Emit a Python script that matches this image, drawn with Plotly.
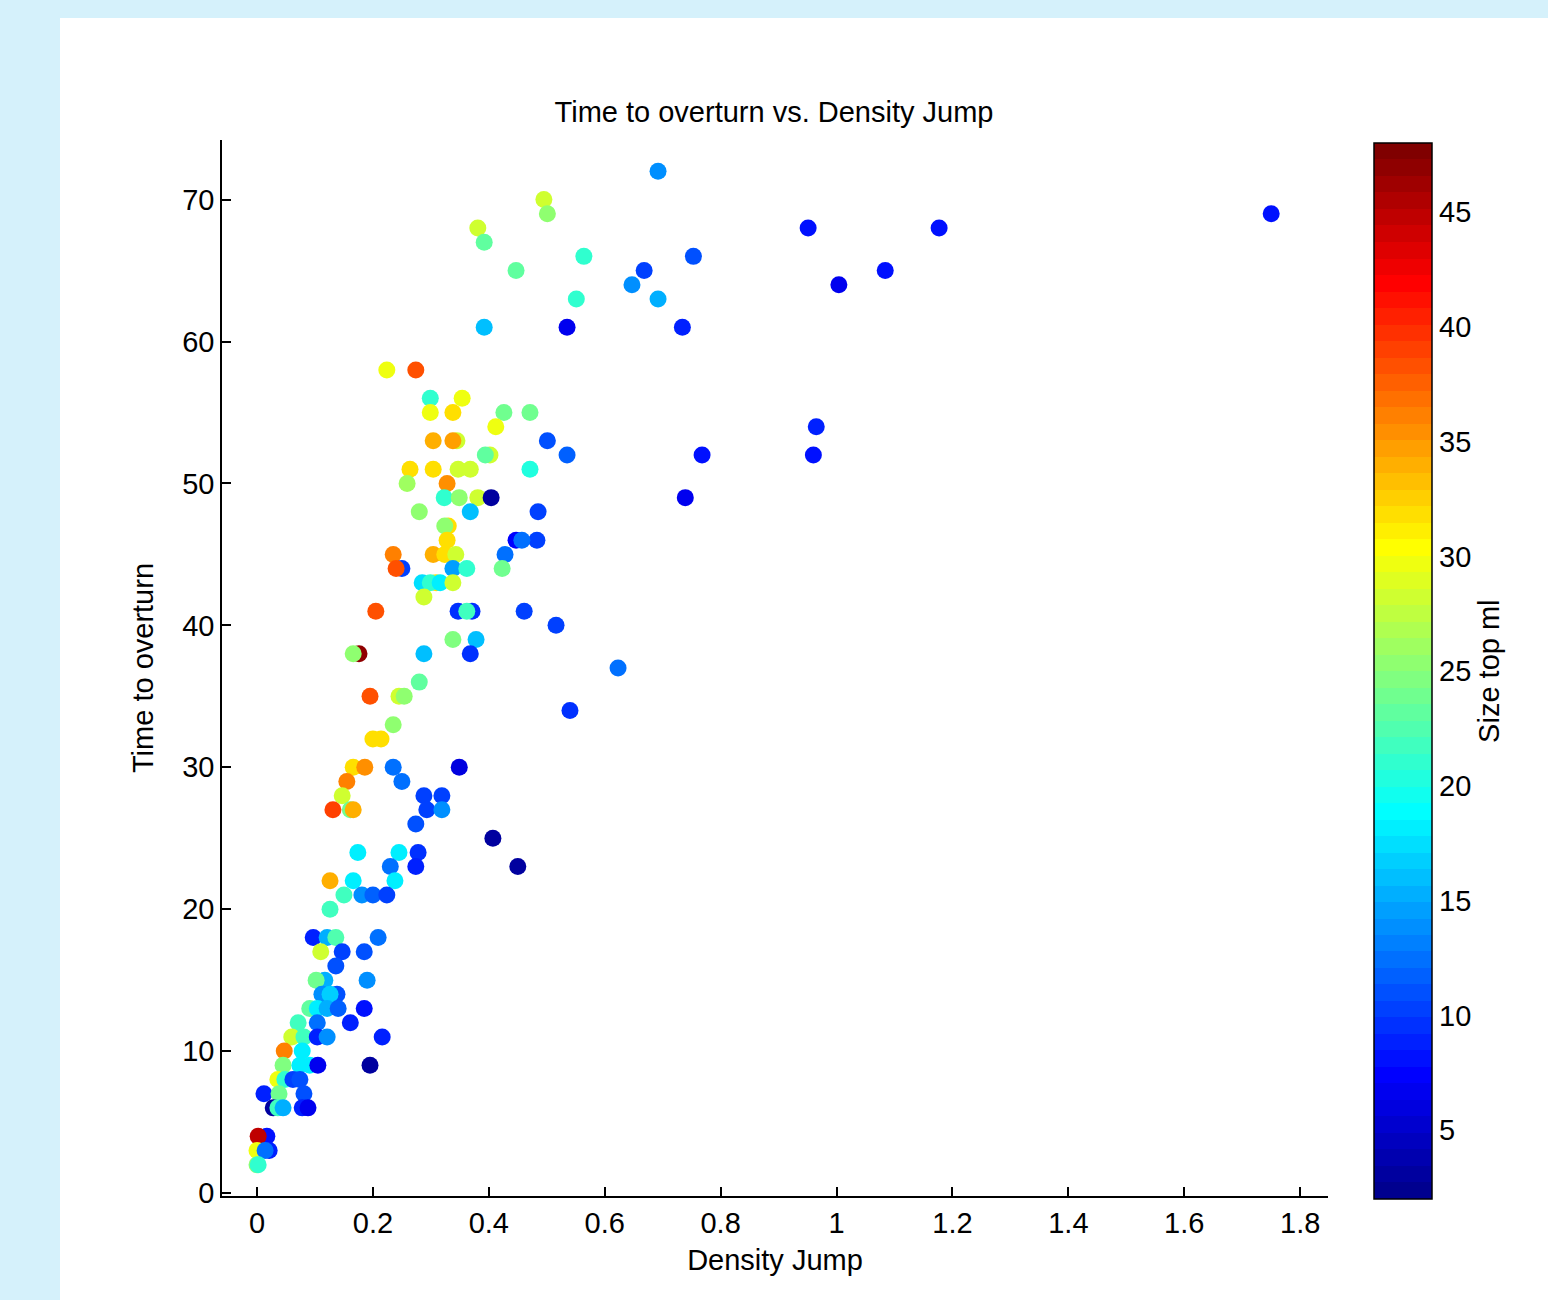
import plotly.graph_objects as go
import numpy as np

# ---------------- data ----------------
density_jump = [
    0.692, 0.495, 0.501, 0.381, 0.392, 0.447, 0.564, 0.551, 0.392, 0.535,
    0.647, 0.668, 0.692, 0.753, 0.734, 0.951, 1.004, 1.084, 1.177, 1.750,
    0.965, 0.960, 0.768, 0.739, 0.501, 0.535, 0.623, 0.540, 0.516, 0.461,
    0.485, 0.483,
    0.224, 0.274, 0.299, 0.354, 0.299, 0.338, 0.426, 0.471, 0.412, 0.304,
    0.345, 0.338, 0.402, 0.394, 0.264, 0.304, 0.347, 0.368, 0.471, 0.259,
    0.328, 0.323, 0.349, 0.381, 0.404, 0.280, 0.368, 0.330, 0.324, 0.328,
    0.447, 0.457, 0.235, 0.304, 0.324, 0.343, 0.428, 0.250, 0.240, 0.338,
    0.362, 0.423, 0.309, 0.285, 0.299, 0.316, 0.338, 0.288, 0.205, 0.347,
    0.371, 0.362, 0.338, 0.378, 0.176, 0.166, 0.288, 0.368, 0.280, 0.195,
    0.245, 0.254, 0.235, 0.200, 0.214, 0.166, 0.186, 0.235, 0.349, 0.155,
    0.250, 0.147, 0.288, 0.319, 0.161, 0.131, 0.166, 0.293, 0.319, 0.274,
    0.407, 0.174, 0.245, 0.278, 0.274, 0.230, 0.450, 0.126, 0.166, 0.238,
    0.150, 0.181, 0.200, 0.224, 0.126, 0.097, 0.121, 0.136, 0.209, 0.110,
    0.147, 0.185, 0.136, 0.117, 0.102, 0.190, 0.138, 0.112, 0.126, 0.091,
    0.104, 0.121, 0.140, 0.185, 0.071, 0.104, 0.161, 0.060, 0.081, 0.104,
    0.121, 0.216, 0.047, 0.078, 0.045, 0.074, 0.091, 0.105, 0.195, 0.036,
    0.048, 0.062, 0.074, 0.012, 0.038, 0.081, 0.028, 0.036, 0.045, 0.078,
    0.088, 0.017, 0.002, 0.000, 0.021, 0.014, 0.000, 0.002,
]
time_to_overturn = [
    72, 70, 69, 68, 67, 65, 66, 63, 61, 61,
    64, 65, 63, 66, 61, 68, 64, 65, 68, 69,
    54, 52, 52, 49, 53, 52, 37, 34, 40, 41,
    48, 46,
    58, 58, 56, 56, 55, 55, 55, 55, 54, 53,
    53, 53, 52, 52, 51, 51, 51, 51, 51, 50,
    50, 49, 49, 49, 49, 48, 48, 47, 47, 46,
    46, 46, 45, 45, 45, 45, 45, 44, 44, 44,
    44, 44, 43, 43, 43, 43, 43, 42, 41, 41,
    41, 41, 39, 39, 38, 38, 38, 38, 36, 35,
    35, 35, 33, 32, 32, 30, 30, 30, 30, 29,
    29, 28, 28, 28, 27, 27, 27, 27, 27, 26,
    25, 24, 24, 24, 23, 23, 23, 22, 22, 22,
    21, 21, 21, 21, 20, 18, 18, 18, 18, 17,
    17, 17, 16, 15, 15, 15, 14, 14, 14, 13,
    13, 13, 13, 13, 12, 12, 12, 11, 11, 11,
    11, 11, 10, 10, 9, 9, 9, 9, 9, 8,
    8, 8, 8, 7, 7, 7, 6, 6, 6, 6,
    6, 4, 4, 3, 3, 3, 2, 2,
]
size_top_ml = [
    14, 28, 25, 28, 23, 23, 21, 21, 16, 6.5,
    14, 10, 15, 11, 8.5, 8, 7, 8, 8, 8,
    8.5, 8, 8, 7, 11, 12, 12.5, 9.5, 10, 10,
    10, 10.5,
    30, 38, 21, 30, 30, 32, 24, 24, 30, 34,
    28, 34.5, 28, 23, 32, 32, 28, 28, 20.5, 26,
    35.5, 21, 25, 28, 3, 25, 16, 32, 25, 32,
    7.5, 12.5, 36, 34, 32, 28, 12.5, 10, 38.5, 14.5,
    21, 24, 32, 17.5, 21, 18, 28, 28, 38, 9.5,
    9.5, 21.5, 24.5, 16, 47, 25, 16, 9.5, 23.5, 38,
    28, 25, 25, 32, 32, 32, 35.5, 12.5, 6, 36,
    12.5, 28, 10.5, 10.5, 24, 39, 34, 10, 14, 11,
    3, 18.5, 18, 9.5, 8.5, 12.5, 3, 34, 18, 18.5,
    22, 14, 12, 10, 21.5, 8.5, 15, 22.5, 12.5, 28,
    10, 11, 11, 15, 24, 14, 11, 14, 17, 23,
    18, 15, 12, 8, 22, 12.5, 9, 28, 21.5, 8.5,
    14, 9, 36, 18.5, 24.5, 18, 18, 6.5, 3, 30,
    21, 10.5, 11, 8.5, 24, 11, 3, 21.5, 15, 9,
    7, 8, 44.5, 30, 9, 12.5, 25, 21,
]

x_ticks = [0, 0.2, 0.4, 0.6, 0.8, 1, 1.2, 1.4, 1.6, 1.8]
y_ticks = [0, 10, 20, 30, 40, 50, 60, 70]
cbar_ticks = [5, 10, 15, 20, 25, 30, 35, 40, 45]
CMIN, CMAX = 2, 48


# ---------------- MATLAB jet(64), stepped ----------------
def jet64():
    m = 64
    n = 16
    u = np.concatenate([np.arange(1, n + 1) / n, np.ones(n - 1), np.arange(n, 0, -1) / n])
    g = (n // 2) + np.arange(1, len(u) + 1)
    r = g + n
    b = g - n
    cm = np.zeros((m, 3))
    for idx, col in ((r, 0), (g, 1), (b, 2)):
        for k, v in zip(idx, u):
            if 1 <= k <= m:
                cm[k - 1, col] = v
    return cm


cm = jet64()
colorscale = []
for i, (rr, gg, bb) in enumerate(cm):
    c = f"rgb({int(round(rr * 255))},{int(round(gg * 255))},{int(round(bb * 255))})"
    colorscale.append([i / 64, c])
    colorscale.append([(i + 1) / 64, c])

FONT = "Liberation Sans, Arial, Helvetica, sans-serif"
FS = 29
BG = "#d5f1fb"

W, H = 1548, 1300
ML, MR, MT, MB = 222, 220, 140, 104
PW = W - ML - MR
PH = H - MT - MB

# colorbar geometry (paper fractions)
CB_X0 = 1.0416
CB_THICK = 58
CB_Y = 0.497
CB_LEN = 1.0
cb_x1 = CB_X0 + CB_THICK / PW
cb_y0 = CB_Y - CB_LEN / 2
tick_w = 9 / PW

fig = go.Figure()
fig.add_trace(go.Scatter(
    x=density_jump, y=time_to_overturn, mode="markers",
    marker=dict(
        size=17, color=size_top_ml, colorscale=colorscale, cmin=CMIN, cmax=CMAX,
        line=dict(width=0), opacity=1,
        colorbar=dict(
            x=CB_X0, xanchor="left", xpad=0, ypad=0,
            y=CB_Y, yanchor="middle", len=CB_LEN, lenmode="fraction",
            thickness=CB_THICK, thicknessmode="pixels",
            outlinecolor="black", outlinewidth=1.5,
            ticks="", ticklabelposition="outside",
            tickvals=cbar_ticks, ticktext=[str(t) for t in cbar_ticks],
            tickfont=dict(family=FONT, size=FS, color="black"),
            title=dict(text="Size top ml", side="right",
                       font=dict(family=FONT, size=FS, color="black")),
        ),
    ),
    showlegend=False,
    hoverinfo="x+y",
))

shapes = [dict(type="rect", xref="paper", yref="paper",
               x0=(60 - ML) / PW, x1=(W - ML) / PW,
               y0=-(H - MT - PH - 0) / PH, y1=(PH + MT - 18) / PH,
               fillcolor="white", line=dict(width=0), layer="below")]
for t in cbar_ticks:
    yy = cb_y0 + (t - CMIN) / (CMAX - CMIN) * CB_LEN
    shapes.append(dict(type="line", xref="paper", yref="paper",
                       x0=CB_X0, x1=CB_X0 + tick_w, y0=yy, y1=yy,
                       line=dict(color="black", width=1.5), layer="above"))
    shapes.append(dict(type="line", xref="paper", yref="paper",
                       x0=cb_x1 - tick_w, x1=cb_x1, y0=yy, y1=yy,
                       line=dict(color="black", width=1.5), layer="above"))

fig.update_layout(
    width=W, height=H,
    margin=dict(l=ML, r=MR, t=MT, b=MB),
    paper_bgcolor=BG,
    plot_bgcolor="white",
    font=dict(family=FONT, size=FS, color="black"),
    title=dict(text="Time to overturn vs. Density Jump", x=0.5, xref="container",
               y=1 - 112 / H, yref="container", xanchor="center", yanchor="middle",
               font=dict(family=FONT, size=FS, color="black")),
    xaxis=dict(
        range=[-0.0604, 1.848], showgrid=False, zeroline=False,
        showline=True, linecolor="black", linewidth=1.5, mirror=False,
        ticks="inside", ticklen=9, tickcolor="black", tickwidth=1.5,
        tickvals=x_ticks, ticktext=[f"{t:g}" for t in x_ticks],
        tickfont=dict(family=FONT, size=FS, color="black"),
        title=dict(text="Density Jump", standoff=12,
                   font=dict(family=FONT, size=FS, color="black")),
    ),
    yaxis=dict(
        range=[-0.21, 74.2], showgrid=False, zeroline=False,
        showline=True, linecolor="black", linewidth=1.5, mirror=False,
        ticks="inside", ticklen=9, tickcolor="black", tickwidth=1.5,
        tickvals=y_ticks, ticktext=[str(t) for t in y_ticks],
        tickfont=dict(family=FONT, size=FS, color="black"),
        title=dict(text="Time to overturn", standoff=20,
                   font=dict(family=FONT, size=FS, color="black")),
    ),
    shapes=shapes,
)

fig.write_html(
    "out.html",
    config={"displayModeBar": False},
    post_script=f"document.body.style.margin='0';document.body.style.background='{BG}';",
)
